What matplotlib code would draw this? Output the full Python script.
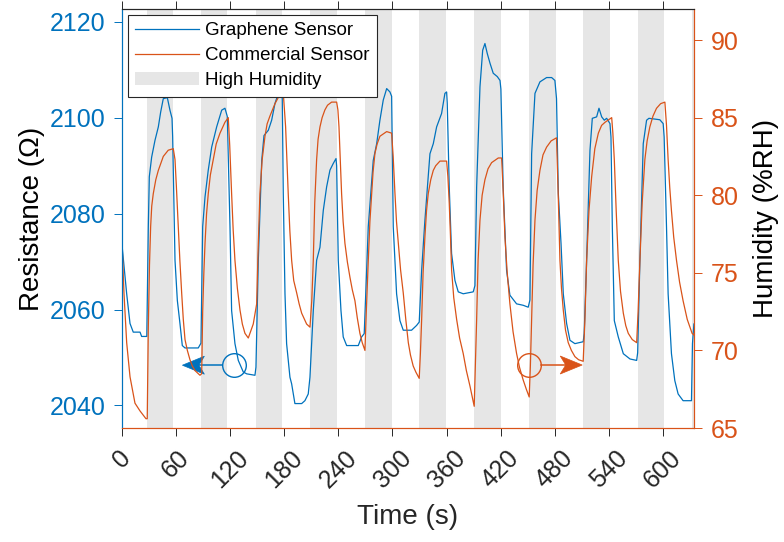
import matplotlib
matplotlib.use('Agg')
import matplotlib.pyplot as plt
import matplotlib.transforms as mtransforms
from matplotlib.patches import Patch, Polygon
from matplotlib.lines import Line2D

plt.rcParams['font.family'] = ['Liberation Sans', 'DejaVu Sans']

# graphene sensor resistance (ohm)
blue_t = [0, 5.2, 8.9, 12.5, 20, 21.8, 27.5, 29.2, 30.3, 32.9, 36.6, 40.3, 42.9, 45.8,
          50.3, 53.2, 55.5, 56.2, 57.7, 58.8, 61.4, 64.3, 66.9, 69.9, 84.6, 87.6,
          89.5, 92.1, 95.7, 99.5, 105, 110.6, 114.2, 116.8, 119.8, 121.6, 125.3,
          129, 134.5, 138.3, 147.5, 148.6, 151.2, 155, 157.5, 162.3, 166, 169.7,
          173.4, 176.3, 177.8, 178.9, 180.8, 182.6, 186.3, 188.2, 191.8, 199.3,
          202.9, 206.6, 208.5, 212.2, 215.9, 219.6, 223.3, 227, 230.7, 234.4,
          237.4, 238.1, 239.9, 242.9, 245.4, 249.2, 262.1, 265.8, 268.7, 273.2,
          278.7, 282.5, 286.1, 289.8, 293.6, 297.2, 299.1, 300.9, 304.6, 308.3,
          312, 321.2, 326.8, 329.7, 332.4, 336, 341.6, 345.3, 349, 354.5, 358.2,
          360.1, 360.8, 363, 365.6, 369.3, 373, 378.5, 389.6, 391.5, 393.4, 397.1,
          400.1, 402.6, 405.2, 408.2, 411.8, 416.3, 419.3, 420.3, 422.8, 426.6,
          430.3, 437.7, 445, 450.6, 452.5, 454.4, 458.1, 463.6, 471, 476.6, 480.2,
          482, 484, 487, 489.5, 493.2, 496.9, 502.4, 511.6, 512.7, 515.4, 519.1,
          521.7, 526.5, 529.1, 532.1, 535, 537.6, 541.3, 542.4, 543.9, 546.1,
          550.5, 556.1, 563.5, 570.9, 572, 574.5, 578.2, 581.9, 584.5, 596.6,
          600.3, 601.4, 604, 605.8, 609.5, 613.2, 616.9, 622.4, 631.7, 632.8, 634.4]
blue_r = [2073.5, 2063.3, 2057.1, 2055.3, 2055.3, 2054.4, 2054.4, 2077.3, 2087.7, 2091.8,
          2095.3, 2098.1, 2101.2, 2104.0, 2104.2, 2101.6, 2099.9, 2096.1, 2080.7,
          2070.3, 2061.9, 2057.1, 2052.5, 2052.0, 2052.0, 2053, 2077.3, 2083.5,
          2089.1, 2093.9, 2098.1, 2101.6, 2102, 2100.3, 2077.3, 2059.8, 2052.9,
          2049.4, 2047, 2046.6, 2046.3, 2048, 2070.3, 2091.1, 2096.3, 2097.4,
          2099.5, 2103, 2105.1, 2105.4, 2104, 2084.2, 2063.3, 2052.9, 2045.9,
          2044.5, 2040.4, 2040.4, 2041, 2042.4, 2045.9, 2059.8, 2070.3, 2073,
          2080.7, 2085.6, 2089.1, 2090.5, 2091.5, 2090, 2070.3, 2059.8, 2054.3,
          2052.5, 2052.5, 2054.3, 2055, 2077.3, 2091.1, 2094.6, 2099.5, 2103.7,
          2106.1, 2105.4, 2104.5, 2077.3, 2063.3, 2057.7, 2055.7, 2055.7, 2056.7,
          2057.4, 2068.2, 2078.6, 2092.5, 2094.6, 2098.1, 2100.9, 2105.1, 2105.4,
          2103, 2085.6, 2071.7, 2066.1, 2063.7, 2063.3, 2063.7, 2065, 2085.6,
          2106.5, 2114.1, 2115.5, 2113.4, 2111.4, 2109.3, 2108.6, 2107.8, 2106,
          2085.6, 2068.2, 2063, 2061.2, 2060.9, 2060.5, 2062, 2092.5, 2105.1,
          2107.5, 2108.4, 2108.4, 2107.8, 2104, 2084.2, 2073.8, 2063.3, 2057.1,
          2053.6, 2052.9, 2053.3, 2055, 2070.3, 2093.2, 2099.9, 2100.2, 2102,
          2100.2, 2099.5, 2099.9, 2098.8, 2096, 2077.3, 2057.7, 2054.3, 2050.8,
          2049.7, 2049.4, 2051, 2070.3, 2094.6, 2099.5, 2099.9, 2099.6, 2098.8,
          2096, 2077.3, 2063.3, 2050.8, 2045.2, 2042.4, 2041, 2041, 2052.9, 2057]

# commercial sensor humidity (%RH), (time, value) pairs per cycle
orange_pts = [
    (0, 77.0), (2.2, 73.7), (5.2, 70.5), (8.9, 68.3), (14.4, 66.6), (20, 66.1),
    (26.6, 65.6), (28, 65.6),
    (29.2, 71.5), (30.5, 75.5), (31.8, 78.0), (33, 79.3), (34.7, 80.1), (37.5, 81.0),
    (40.3, 81.6), (45.8, 82.5), (51.3, 82.9), (56.9, 83.0),
    (58.8, 82.3), (60.3, 80.6), (62.4, 78.0), (64.2, 75.8), (66.2, 73.7), (68, 72.0),
    (69.9, 70.7), (72.5, 70.0), (75.4, 69.4), (78, 69.0), (81, 68.7), (86.5, 68.4),
    (88.4, 68.5),
    (89.5, 72.5), (90.8, 75.0), (92.1, 76.9), (93.8, 78.8), (95.7, 80.1), (98, 81.3),
    (101.3, 82.3), (104.5, 83.3), (108.7, 84.0), (114.2, 84.7), (117.9, 85.0),
    (119.5, 83.2), (121.6, 80.1), (123.3, 77.8), (125.3, 75.8), (128, 74.0),
    (130.9, 72.6), (133.5, 71.7), (136.4, 71.1), (140.1, 70.8), (145.6, 71.7),
    (149.4, 73.0),
    (151, 76.5), (153, 80.1), (155.5, 82.3), (158.6, 83.8), (161, 84.6), (164.1, 85.1),
    (169.7, 85.9), (175.2, 86.5), (178.9, 86.6),
    (180, 85.7), (181.5, 84.4), (182.9, 82.3), (184.4, 80.1), (186.2, 77.7),
    (188.2, 75.8), (190.5, 74.5), (193.8, 73.7), (196.5, 73.0), (199.3, 72.4),
    (204.8, 71.7), (208.5, 71.5),
    (210.5, 73.2), (212.2, 75.8), (213.8, 79.5), (215.9, 82.3), (217.5, 83.6),
    (219.6, 84.4), (222, 85.0), (225.1, 85.5), (228, 85.8), (232.5, 86.0), (238.1, 86.0),
    (239.5, 85.5), (240.7, 84.4), (242, 82.5), (243.6, 80.1), (245.3, 78.3),
    (247.3, 76.9), (250, 75.7), (252.9, 74.7), (255.5, 73.9), (258.4, 73.2),
    (261, 72.1), (263.9, 71.1), (266.5, 70.5), (269.5, 70.0),
    (271, 72.5), (273.2, 75.8), (275, 78.3), (276.9, 80.1), (278.5, 81.5), (280.6, 82.7),
    (283, 83.3), (286.1, 83.8), (293.6, 84.1), (299.1, 84.0),
    (300.8, 82.5), (302.8, 80.1), (304.5, 78.3), (306.5, 76.9), (309, 75.2),
    (312, 73.7), (314.8, 72.0), (317.6, 70.5), (320, 69.7), (323, 69.0), (326, 68.6),
    (329.7, 68.2),
    (331, 69.8), (332.4, 72.0), (334, 75.0), (336, 77.3), (337.8, 79.0), (339.7, 80.1),
    (342.5, 81.0), (345.3, 81.6), (348, 81.9), (352.7, 82.2), (360.1, 82.2),
    (361.5, 81.2), (363, 79.5), (364.3, 77.5), (365.6, 75.2), (368, 73.4),
    (371.2, 72.0), (374.5, 70.8), (378.5, 69.8), (382, 68.7), (386, 67.7),
    (390.7, 66.4),
    (392, 69.0), (393.4, 72.0), (395, 75.8), (397.1, 78.4), (399.5, 80.0),
    (402.6, 81.0), (406, 81.7), (410, 82.1), (417.4, 82.4), (421.1, 82.4),
    (422.8, 80.3), (424.8, 77.3), (427.3, 75.0), (430.3, 73.0), (433.8, 71.2),
    (437.7, 69.8), (441, 68.9), (445, 68.1), (448.5, 67.5), (451.7, 67.0),
    (453, 69.0), (454.4, 72.0), (456, 75.5), (458.1, 78.4), (460.5, 80.3),
    (463.6, 81.6), (467, 82.6), (471, 83.1), (476, 83.5), (482, 83.7),
    (483.9, 80.0), (485.8, 75.8), (487.5, 74.0), (489.5, 72.6), (492, 71.3),
    (495, 70.5), (498.5, 70.0), (502.4, 69.6), (506.5, 69.4), (511.6, 69.3),
    (513.5, 72.0), (515.4, 75.8), (518, 79.0), (521, 81.2), (524.5, 83.0),
    (528.4, 84.0), (532, 84.5), (535.8, 84.7), (543.2, 85.0),
    (544.5, 84.0), (546.1, 82.3), (548.2, 79.0), (550.5, 75.8), (553, 73.8),
    (556.1, 72.4), (558.8, 71.6), (561.6, 71.1), (566, 70.7), (570.9, 70.5),
    (572.5, 72.5), (574.5, 75.8), (577, 79.5), (580, 82.3), (582.5, 83.5),
    (585.5, 84.4), (589, 85.1), (592.9, 85.6), (597.5, 85.9), (602.2, 86.0),
    (604, 84.5), (605.8, 82.3), (607.6, 80.5), (609.5, 79.0), (612, 77.3),
    (615.1, 75.8), (618.5, 74.4), (622.4, 73.2), (627, 72.0), (632.4, 71.1),
    (634.4, 71.0),
]
orange_t = [p[0] for p in orange_pts]
orange_h = [p[1] for p in orange_pts]

# high humidity intervals (s)
band_start = [27.5, 87.5, 148.5, 208.5, 269.5, 329.5, 390.5, 451, 511.5, 572, 632.5]
band_end = [56.5, 117, 178, 238, 299, 359.5, 420.5, 481, 541.5, 601.5, 662]

time_ticks = list(range(0, 601, 60))
res_ticks = [2040, 2060, 2080, 2100, 2120]
hum_ticks = [65, 70, 75, 80, 85, 90]

BLUE = '#0072BD'
ORANGE = '#D95319'
DARK = '#262626'


def axis_marker(a, fig, cx, cy, tip_x, color, direction):
    """Open circle on the curve with a stealth arrow pointing to its y axis."""
    a.plot([cx], [cy], 'o', ms=17, mfc='none', mec=color, mew=1.0, zorder=4)
    # head geometry in inches, tip at origin, pointing along +direction
    L, W, notch = 0.22, 0.09, 0.165
    d = direction
    verts = [(0, 0), (-d * L, W), (-d * notch, 0), (-d * L, -W)]
    trans = fig.dpi_scale_trans + mtransforms.ScaledTranslation(tip_x, cy, a.transData)
    a.add_patch(Polygon(verts, closed=True, facecolor=color, edgecolor=color,
                        lw=0.5, transform=trans, zorder=5))
    # shaft from circle edge to the notch of the head
    start = a.transData.transform((cx, cy))
    tip = a.transData.transform((tip_x, cy))
    r_px = 17 / 2 * fig.dpi / 72
    x0 = start[0] + d * r_px
    x1 = tip[0] - d * notch * fig.dpi
    inv = a.transData.inverted()
    a.plot([inv.transform((x0, start[1]))[0], inv.transform((x1, start[1]))[0]],
           [cy, cy], color=color, lw=1.1, zorder=4)


fig = plt.figure(figsize=(7.84, 5.42), dpi=100)
ax = fig.add_axes([0.1556, 0.2103, 0.7296, 0.7731])
ax2 = ax.twinx()

for s, e in zip(band_start, band_end):
    ax.axvspan(s, e, color='#e6e6e6', lw=0, zorder=0)

ax.plot(blue_t, blue_r, color=BLUE, lw=0.9, zorder=2)
ax2.plot(orange_t, orange_h, color=ORANGE, lw=0.9, zorder=2)

ax.set_xlim(0, 634.5)
ax.set_ylim(2035.3, 2122.7)
ax2.set_ylim(65, 92)
ax.set_xticks(time_ticks)
ax.set_xticklabels([str(t) for t in time_ticks], rotation=45, ha='center')
ax.set_yticks(res_ticks)
ax2.set_yticks(hum_ticks)

ax.tick_params(axis='x', direction='out', length=6, width=0.7, color=DARK,
               labelcolor=DARK, labelsize=18, pad=7, top=True)
ax.tick_params(axis='y', direction='out', length=6, width=0.7, color=BLUE,
               labelcolor=BLUE, labelsize=18, pad=6)
ax2.tick_params(axis='y', direction='out', length=6, width=0.7, color=ORANGE,
                labelcolor=ORANGE, labelsize=18, pad=6)

for a in (ax, ax2):
    a.spines['left'].set_color(BLUE)
    a.spines['right'].set_color(ORANGE)
    a.spines['bottom'].set_color(ORANGE)
    a.spines['top'].set_color(DARK)
    for sp in a.spines.values():
        sp.set_linewidth(0.8)

ax.set_xlabel('Time (s)', fontsize=20, color=DARK, labelpad=8)
ax.set_ylabel('Resistance (Ω)', fontsize=20, color='black', labelpad=3)
ax2.set_ylabel('Humidity (%RH)', fontsize=20, color='black', labelpad=10)

axis_marker(ax, fig, 124.5, 2048.4, 67, BLUE, -1)
axis_marker(ax2, fig, 451.8, 69.06, 510.5, ORANGE, 1)

handles = [Line2D([], [], color=BLUE, lw=0.9),
           Line2D([], [], color=ORANGE, lw=0.9),
           Patch(facecolor='#e6e6e6', edgecolor='none')]
labels = ['Graphene Sensor', 'Commercial Sensor', 'High Humidity']
leg = ax2.legend(handles, labels, loc='upper left', fontsize=13.5, frameon=True,
                 fancybox=False, framealpha=1, edgecolor=DARK, borderaxespad=0.3,
                 handlelength=3.4, handletextpad=0.35, labelspacing=0.42,
                 borderpad=0.4)
leg.get_frame().set_linewidth(0.8)

fig.savefig('out.png', dpi=100)
